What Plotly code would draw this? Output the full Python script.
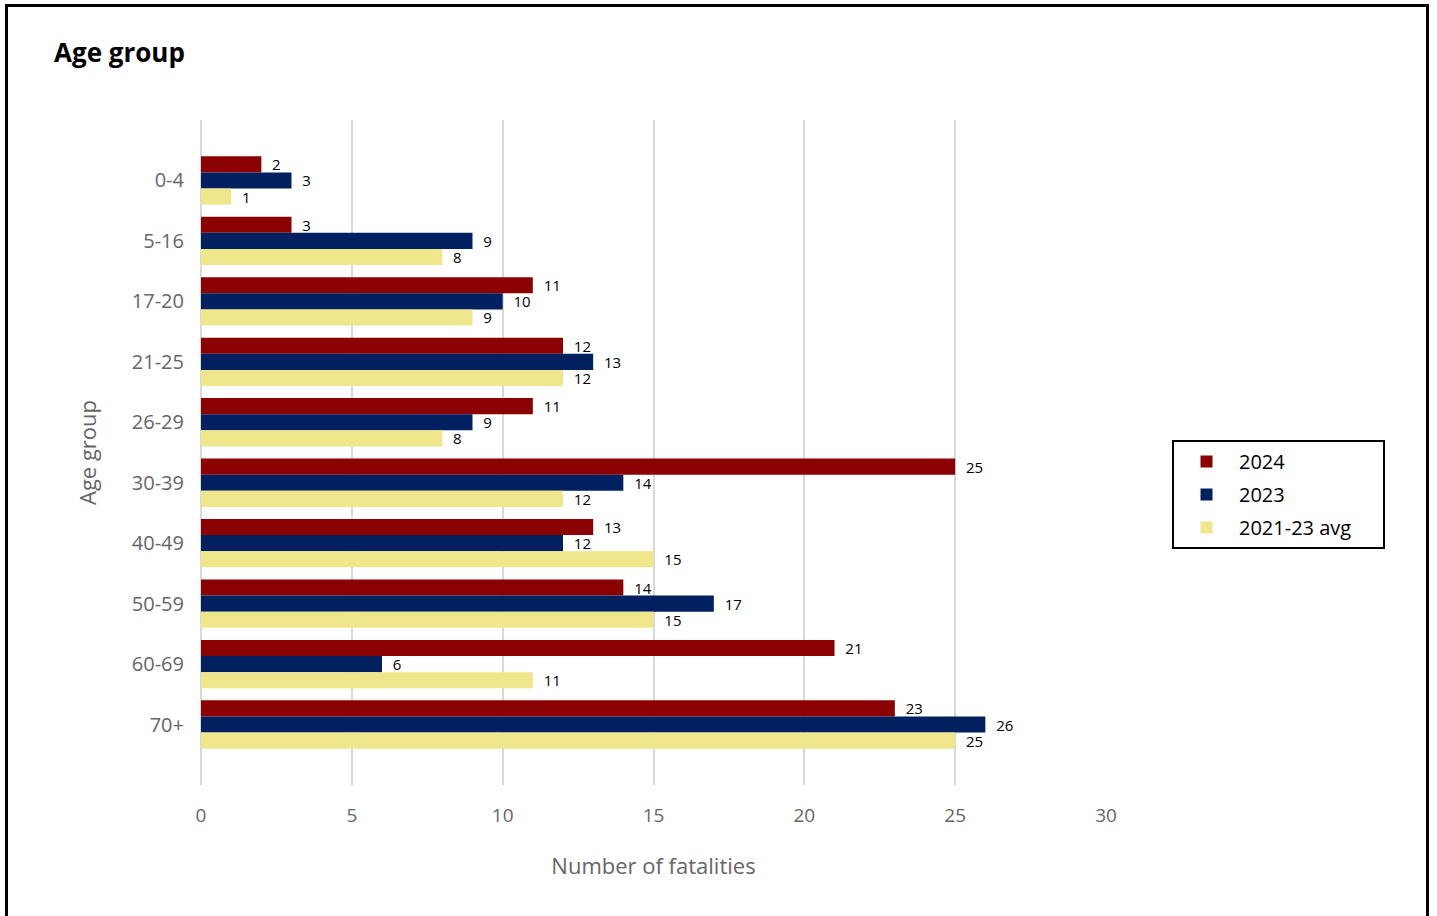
import plotly.graph_objects as go

age_groups = ["0-4", "5-16", "17-20", "21-25", "26-29", "30-39", "40-49", "50-59", "60-69", "70+"]
vals_2024 = [2, 3, 11, 12, 11, 25, 13, 14, 21, 23]
vals_2023 = [3, 9, 10, 13, 9, 14, 12, 17, 6, 26]
vals_avg = [1, 8, 9, 12, 8, 12, 15, 15, 11, 25]
series_names = ["2024", "2023", "2021-23 avg"]
series_colors = ["#8B0000", "#002060", "#F0E68C"]
x_ticks = [0, 5, 10, 15, 20, 25, 30]

W, H = 1437, 916
L, R, T, B = 201, 1106, 120, 785

fig = go.Figure()
for name, vals, col in zip(series_names, [vals_2024, vals_2023, vals_avg], series_colors):
    fig.add_trace(go.Bar(
        y=age_groups, x=vals, name=name + "\u00a0\u00a0\u00a0\u00a0\u00a0", orientation="h",
        legendgroup=name,
        marker=dict(color=col, line=dict(width=0)),
        texttemplate="\u00a0\u00a0%{x}", textposition="outside",
        constraintext="none",
        textfont=dict(size=15, color="#000000", family="Open Sans, sans-serif"),
        cliponaxis=False,
    ))

def px_x(p):
    return (p - L) / (R - L)

def px_y(p):
    return (B - p) / (B - T)

fig.update_layout(
    width=W, height=H,
    margin=dict(l=L, r=W - R, t=T, b=H - B),
    paper_bgcolor="white", plot_bgcolor="white",
    barmode="group", bargap=0.2, bargroupgap=0,
    font=dict(family="Open Sans, sans-serif"),
    title=dict(text="<b>Age group</b>", x=54 / W, xanchor="left", xref="container",
               y=1 - 53 / H, yanchor="middle", yref="container",
               font=dict(size=26, color="#000000")),
    xaxis=dict(range=[0, 30], tickvals=x_ticks, showgrid=True, gridcolor="#d9d9d9", gridwidth=2,
               zeroline=True, zerolinecolor="#d9d9d9", zerolinewidth=2,
               showline=False, ticks="", ticklabelstandoff=17,
               tickfont=dict(size=19, color="#666666"),
               title=dict(text="Number of fatalities", font=dict(size=22, color="#666666"), standoff=31)),
    yaxis=dict(autorange=False, range=[10, -1], categoryorder="array", categoryarray=age_groups,
               showgrid=False, showline=False, ticks="", ticklabelstandoff=16,
               tickfont=dict(size=20, color="#666666"),
               title=dict(text="Age group", font=dict(size=22, color="#666666"), standoff=29)),
    legend=dict(x=px_x(1172), xanchor="left", y=px_y(440), yanchor="top",
                bordercolor="#000000", borderwidth=2, bgcolor="white",
                font=dict(size=20, color="#000000"), tracegroupgap=4, itemwidth=55),
    shapes=[dict(type="rect", xref="paper", yref="paper",
                 x0=px_x(6.5), x1=px_x(1427.5), y0=px_y(930), y1=px_y(5.5),
                 line=dict(color="#000000", width=3), fillcolor="rgba(0,0,0,0)", layer="below")],
)

fig.write_html("out.html", config={"displayModeBar": False},
               post_script="document.body.style.margin='0';")
